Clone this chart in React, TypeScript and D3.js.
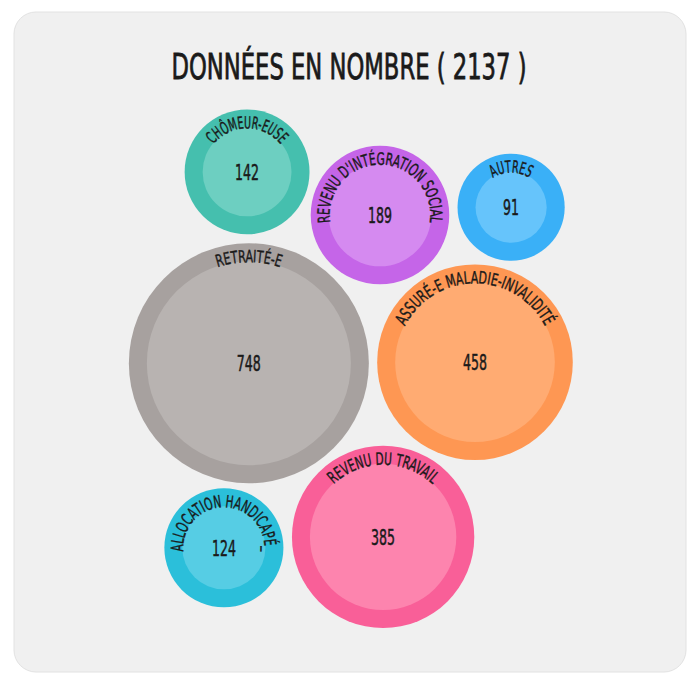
import * as d3 from "d3";

// data
const categories = [
  "CHÔMEUR-EUSE",
  "REVENU D'INTÉGRATION SOCIAL",
  "AUTRES",
  "RETRAITÉ-E",
  "ASSURÉ-E MALADIE-INVALIDITÉ",
  "REVENU DU TRAVAIL",
  "ALLOCATION HANDICAPÉ_",
];
const values = [142, 189, 91, 748, 458, 385, 124];

// colours: ring + lighter core
const outerColors = ["#45bfae", "#c565e8", "#3ab0f7", "#a7a19f", "#fe9753", "#f95f98", "#2bbfda"];
const innerColors = ["#6dcfc1", "#d58af0", "#66c4fb", "#b8b3b1", "#ffab72", "#fd84ae", "#56cde4"];

// packing anchors on a 0-100 grid
const gridX = [26.7, 56.5, 85.9, 27.1, 77.8, 57.2, 21.5];
const gridY = [11.9, 20.2, 18.7, 48.7, 48.5, 82.1, 84.2];

const W = 692;
const H = 677;
const FONT = "'DejaVu Sans Condensed', 'DejaVu Sans', sans-serif";
const INK = "#1a1a1a";
const LABEL_CHAR = 6.4; // condensed glyph advance along the arc
const VALUE_CHAR = 8;

export default function App() {
  const x = d3.scaleLinear().domain([0, 100]).range([128, 574]);
  const y = d3.scaleLinear().domain([0, 100]).range([110, 630]);
  const r = d3.scaleSqrt().domain([0, d3.max(values)!]).range([18, 120]);
  const total = d3.sum(values);

  const bubbles = categories.map((label, i) => ({
    label,
    value: values[i],
    cx: x(gridX[i]),
    cy: y(gridY[i]),
    r: r(values[i]),
    outer: outerColors[i],
    inner: innerColors[i],
  }));

  // circle path starting at the bottom, running clockwise, so 50% = top
  const labelPath = (cx: number, cy: number, R: number) => {
    const p = d3.path();
    p.moveTo(cx, cy + R);
    p.arc(cx, cy, R, Math.PI / 2, Math.PI / 2 + 2 * Math.PI);
    return p.toString();
  };

  return (
    <svg
      width={W}
      height={H}
      style={{ position: "absolute", left: 0, top: 0, background: "#fff" }}
    >
      <rect x={14} y={12} width={672} height={660} rx={22} fill="#f0f0f0" stroke="#e2e2e2" />
      <text
        x={349}
        y={79}
        textAnchor="middle"
        fontFamily={FONT}
        fontSize={36}
        fill={INK}
        stroke={INK}
        strokeWidth={0.8}
        textLength={355}
        lengthAdjust="spacingAndGlyphs"
      >
        {`DONNÉES EN NOMBRE ( ${total} )`}
      </text>
      {bubbles.map((d, i) => (
        <g key={d.label}>
          <circle cx={d.cx} cy={d.cy} r={d.r} fill={d.outer} />
          <circle cx={d.cx} cy={d.cy} r={d.r - 18} fill={d.inner} />
          <path id={`lp${i}`} d={labelPath(d.cx, d.cy, d.r - 19)} fill="none" />
          <text fontFamily={FONT} fontSize={17} fill={INK} stroke={INK} strokeWidth={0.4}>
            <textPath
              href={`#lp${i}`}
              startOffset="50%"
              textAnchor="middle"
              textLength={d.label.length * LABEL_CHAR}
              lengthAdjust="spacingAndGlyphs"
            >
              {d.label}
            </textPath>
          </text>
          <text
            x={d.cx}
            y={d.cy}
            dy="0.36em"
            textAnchor="middle"
            fontFamily={FONT}
            fontSize={22}
            fill={INK}
            stroke={INK}
            strokeWidth={0.5}
            textLength={String(d.value).length * VALUE_CHAR}
            lengthAdjust="spacingAndGlyphs"
          >
            {d.value}
          </text>
        </g>
      ))}
    </svg>
  );
}
